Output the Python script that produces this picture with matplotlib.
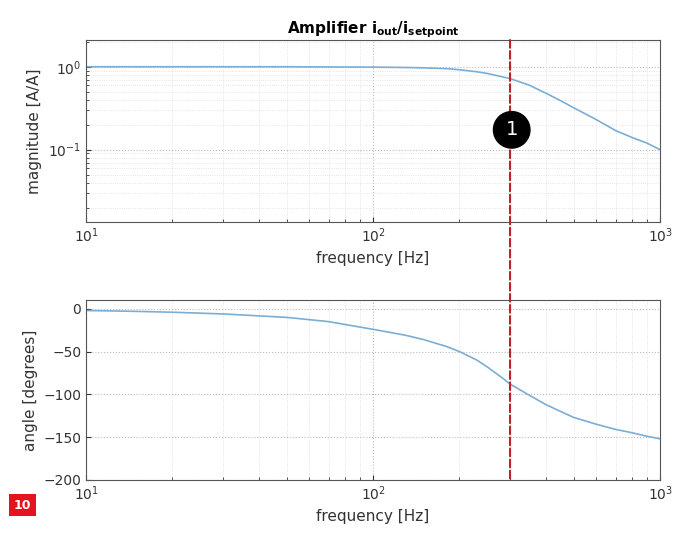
import matplotlib
matplotlib.use("Agg")
import matplotlib.pyplot as plt
from matplotlib.patches import ConnectionPatch

freq = [10, 15, 20, 30, 50, 70, 100, 130, 150, 180, 200, 230, 250, 280, 300,
        350, 400, 450, 500, 600, 700, 800, 900, 1000]
magnitude = [1.0, 1.0, 1.0, 1.0, 1.0, 0.995, 0.99, 0.98, 0.97, 0.95, 0.92, 0.87,
             0.83, 0.76, 0.72, 0.60, 0.48, 0.39, 0.32, 0.23, 0.17, 0.14, 0.12, 0.10]
angle = [-2, -3, -4, -6, -10, -15, -24, -31, -36, -44, -50, -60, -68, -80, -88,
         -101, -112, -120, -127, -135, -141, -145, -149, -152]
marker_freq = 300

fig = plt.figure(figsize=(7.0, 5.41), dpi=100)
ax1 = fig.add_axes([0.123, 0.590, 0.820, 0.336])
ax2 = fig.add_axes([0.123, 0.113, 0.820, 0.332])

line_color = "#7aaed6"
for ax in (ax1, ax2):
    ax.set_xscale("log")
    ax.set_xlim(10, 1000)
    ax.grid(True, which="major", color="#bbbbbb", linestyle=":", linewidth=0.8)
    ax.grid(True, which="minor", color="#dddddd", linestyle=":", linewidth=0.6)
    ax.set_xlabel("frequency [Hz]", fontsize=11, color="#333333")
    ax.tick_params(labelsize=10, colors="#333333", which="both", direction="in")
    for s in ax.spines.values():
        s.set_color("#555555")

ax1.plot(freq, magnitude, color=line_color, linewidth=1.2)
ax1.set_yscale("log")
ax1.set_ylim(0.0135, 2.1)
ax1.set_ylabel("magnitude [A/A]", fontsize=11, color="#333333")
ax1.set_title(r"Amplifier i$_{\mathregular{out}}$/i$_{\mathregular{setpoint}}$",
              fontsize=11, fontweight="bold", pad=3)

ax2.plot(freq, angle, color=line_color, linewidth=1.2)
ax2.set_ylim(-200, 10)
ax2.set_yticks([-200, -150, -100, -50, 0])
ax2.set_ylabel("angle [degrees]", fontsize=11, color="#333333")

con = ConnectionPatch(xyA=(marker_freq, 2.1), coordsA=ax1.transData,
                      xyB=(marker_freq, -200), coordsB=ax2.transData,
                      color="#c0202a", linestyle="--", linewidth=1.5, zorder=5)
fig.add_artist(con)

fig.text(0.731, 0.760, "1", ha="center", va="center", color="white", fontsize=14,
         zorder=10,
         bbox=dict(boxstyle="circle,pad=0.45", fc="black", ec="black"))
fig.text(0.032, 0.066, "10", ha="center", va="center", color="white", fontsize=9,
         fontweight="bold", zorder=10,
         bbox=dict(boxstyle="square,pad=0.35", fc="#e3141f", ec="none"))

fig.savefig("out.png", dpi=100)
